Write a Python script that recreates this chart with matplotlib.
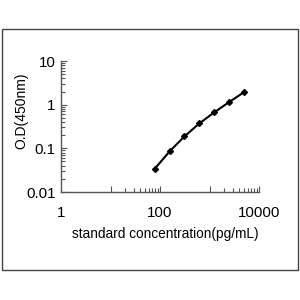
import matplotlib
matplotlib.use("Agg")
import matplotlib.pyplot as plt
from matplotlib.patches import Rectangle
from matplotlib.ticker import FixedLocator, NullFormatter

plt.rcParams['font.family'] = ['Liberation Sans', 'DejaVu Sans']

conc = [78.125, 156.25, 312.5, 625, 1250, 2500, 5000]
od = [0.034, 0.085, 0.188, 0.373, 0.667, 1.15, 1.94]
xticks = [1, 100, 10000]
xtick_labels = ["1", "100", "10000"]
yticks = [0.01, 0.1, 1, 10]
ytick_labels = ["0.01", "0.1", "1", "10"]

fig = plt.figure(figsize=(3, 3), dpi=100)
fig.patches.append(Rectangle((2/300, 1-270/300), 296/300, 241/300, transform=fig.transFigure,
                             fill=False, edgecolor='#444444', linewidth=1.0))
ax = fig.add_axes([61/300, 1-192/300, 198/300, 131/300])
ax.plot(conc, od, color='black', linewidth=1.5, marker='D', markersize=3, markerfacecolor='black')
ax.set_xscale('log')
ax.set_yscale('log')
ax.set_xlim(1, 10000)
ax.set_ylim(0.01, 10)
for s in ['top', 'right']:
    ax.spines[s].set_visible(False)
for s in ['left', 'bottom']:
    ax.spines[s].set_color('#555555')
    ax.spines[s].set_linewidth(1.0)

ax.xaxis.set_major_locator(FixedLocator([10, 100, 1000, 10000]))
ax.xaxis.set_major_formatter(NullFormatter())
xminor = [m * d for d in (10, 1000) for m in range(2, 10)]
ax.xaxis.set_minor_locator(FixedLocator(xminor))
ax.xaxis.set_minor_formatter(NullFormatter())
ax.yaxis.set_major_locator(FixedLocator(yticks))
ax.set_yticklabels(ytick_labels)
yminor = [m * d for d in (0.01, 0.1, 1) for m in range(2, 10)]
ax.yaxis.set_minor_locator(FixedLocator(yminor))
ax.yaxis.set_minor_formatter(NullFormatter())

ax.tick_params(axis='both', which='both', direction='in', color='#555555', width=0.8)
ax.tick_params(axis='both', which='major', length=4)
ax.tick_params(axis='both', which='minor', length=3)
ax.tick_params(axis='y', which='major', labelsize=10.8, pad=4)

for v, lab in zip(xticks, xtick_labels):
    ax.text(v, -0.16, lab, transform=ax.get_xaxis_transform(), ha='center', va='center', fontsize=10.8)

ax.set_xlabel("standard concentration(pg/mL)", fontsize=9.8)
ax.xaxis.set_label_coords(0.525, -0.27)
ax.set_ylabel("O.D(450nm)", fontsize=10)
ax.yaxis.set_label_coords(-0.165, 0.62)

fig.savefig("out.png", dpi=100)
